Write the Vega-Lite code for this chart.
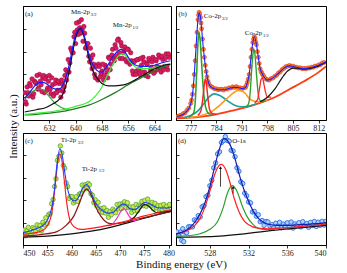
{
"$schema":"https://vega.github.io/schema/vega-lite/v6.json",
"padding":{"left":6,"top":5,"right":0,"bottom":0},
"background":"white",
"config":{"view":{"stroke":"black","strokeWidth":1},"font":"Liberation Serif",
"axis":{"grid":false,"domainColor":"black","tickColor":"black","tickSize":3,"tickWidth":0.8,"labelFont":"Liberation Serif","labelFontSize":8,"labelColor":"#222","labelPadding":1,"labelOverlap":false,"labelSeparation":0,"titleFont":"Liberation Serif","titleFontWeight":"normal","titleFontSize":11,"titleColor":"#111"},
"axisX":{"labelOverlap":false},"axisBottom":{"labelOverlap":false},"axisQuantitative":{"labelOverlap":false},
"axisY":{"labels":false,"title":null,"tickSize":-3,"tickCount":5}},
"datasets":{
"pa":[{"x":624.5,"y":24},{"x":625,"y":14},{"x":625.5,"y":24},{"x":626,"y":32},{"x":626.5,"y":22},{"x":627,"y":20},{"x":627.5,"y":34},{"x":628,"y":32},{"x":628.5,"y":27},{"x":629,"y":40},{"x":629.5,"y":31},{"x":630,"y":37},{"x":630.5,"y":24},{"x":631,"y":38},{"x":631.5,"y":28},{"x":632,"y":39},{"x":632.5,"y":23},{"x":633,"y":31},{"x":633.5,"y":23},{"x":634,"y":35},{"x":634.5,"y":26},{"x":635,"y":32},{"x":635.5,"y":20},{"x":636,"y":32},{"x":636.5,"y":29},{"x":637,"y":44},{"x":637.5,"y":42},{"x":638,"y":42},{"x":638.5,"y":63},{"x":639,"y":59},{"x":639.5,"y":73},{"x":640,"y":67},{"x":640.5,"y":79},{"x":641,"y":86},{"x":641.5,"y":76},{"x":642,"y":79},{"x":642.5,"y":82},{"x":643,"y":63},{"x":643.5,"y":67},{"x":644,"y":56},{"x":644.5,"y":63},{"x":645,"y":45},{"x":645.5,"y":49},{"x":646,"y":37},{"x":646.5,"y":48},{"x":647,"y":49},{"x":647.5,"y":38},{"x":648,"y":43},{"x":648.5,"y":35},{"x":649,"y":48},{"x":649.5,"y":42},{"x":650,"y":55},{"x":650.5,"y":44},{"x":651,"y":57},{"x":651.5,"y":54},{"x":652,"y":66},{"x":652.5,"y":56},{"x":653,"y":71},{"x":653.5,"y":54},{"x":654,"y":65},{"x":654.5,"y":59},{"x":655,"y":64},{"x":655.5,"y":51},{"x":656,"y":62},{"x":656.5,"y":49},{"x":657,"y":52},{"x":657.5,"y":40},{"x":658,"y":52},{"x":658.5,"y":43},{"x":659,"y":53},{"x":659.5,"y":40},{"x":660,"y":48},{"x":660.5,"y":55},{"x":661,"y":42},{"x":661.5,"y":50},{"x":662,"y":38},{"x":662.5,"y":52},{"x":663,"y":46},{"x":663.5,"y":55},{"x":664,"y":42},{"x":664.5,"y":52},{"x":665,"y":44},{"x":665.5,"y":55},{"x":666,"y":42},{"x":666.5,"y":53},{"x":667,"y":47},{"x":667.5,"y":58},{"x":668,"y":44},{"x":668.5,"y":55},
{"x":624.75,"y":16},{"x":625.25,"y":29},{"x":625.75,"y":21},{"x":626.25,"y":30},{"x":626.75,"y":36},{"x":627.25,"y":23},{"x":627.75,"y":33},{"x":628.25,"y":39},{"x":628.75,"y":28},{"x":629.25,"y":34},{"x":629.75,"y":25},{"x":630.25,"y":39},{"x":630.75,"y":36},{"x":631.25,"y":26},{"x":631.75,"y":34},{"x":632.25,"y":27},{"x":632.75,"y":37},{"x":633.25,"y":21},{"x":633.75,"y":32},{"x":634.25,"y":24},{"x":634.75,"y":34},{"x":635.25,"y":26},{"x":635.75,"y":35},{"x":636.25,"y":25},{"x":636.75,"y":39},{"x":637.25,"y":35},{"x":637.75,"y":53},{"x":638.25,"y":50},{"x":638.75,"y":61},{"x":639.25,"y":59},{"x":639.75,"y":77},{"x":640.25,"y":85},{"x":640.75,"y":75},{"x":641.25,"y":81},{"x":641.75,"y":88},{"x":642.25,"y":69},{"x":642.75,"y":76},{"x":643.25,"y":64},{"x":643.75,"y":67},{"x":644.25,"y":51},{"x":644.75,"y":54},{"x":645.25,"y":57},{"x":645.75,"y":40},{"x":646.25,"y":47},{"x":646.75,"y":35},{"x":647.25,"y":47},{"x":647.75,"y":41},{"x":648.25,"y":49},{"x":648.75,"y":39},{"x":649.25,"y":46},{"x":649.75,"y":37},{"x":650.25,"y":54},{"x":650.75,"y":49},{"x":651.25,"y":62},{"x":651.75,"y":52},{"x":652.25,"y":63},{"x":652.75,"y":70},{"x":653.25,"y":59},{"x":653.75,"y":68},{"x":654.25,"y":54},{"x":654.75,"y":61},{"x":655.25,"y":53},{"x":655.75,"y":62},{"x":656.25,"y":51},{"x":656.75,"y":59},{"x":657.25,"y":43},{"x":657.75,"y":51},{"x":658.25,"y":40},{"x":658.75,"y":53},{"x":659.25,"y":44},{"x":659.75,"y":54},{"x":660.25,"y":42},{"x":660.75,"y":51},{"x":661.25,"y":39},{"x":661.75,"y":49},{"x":662.25,"y":54},{"x":662.75,"y":43},{"x":663.25,"y":51},{"x":663.75,"y":41},{"x":664.25,"y":53},{"x":664.75,"y":47},{"x":665.25,"y":57},{"x":665.75,"y":46},{"x":666.25,"y":56},{"x":666.75,"y":44},{"x":667.25,"y":54},{"x":667.75,"y":47},{"x":668.25,"y":58}],
"la":[
{"s":"bg","x":624.5,"y":4.4},{"s":"bg","x":628,"y":5},{"s":"bg","x":632,"y":6},{"s":"bg","x":636,"y":7.5},{"s":"bg","x":640,"y":10},{"s":"bg","x":644,"y":13},{"s":"bg","x":648,"y":18},{"s":"bg","x":652,"y":24},{"s":"bg","x":656,"y":31},{"s":"bg","x":660,"y":37},{"s":"bg","x":664,"y":43},{"s":"bg","x":667,"y":47},{"s":"bg","x":668.8,"y":48.5},
{"s":"sat","x":624.5,"y":18},{"s":"sat","x":626,"y":23},{"s":"sat","x":627.5,"y":26},{"s":"sat","x":629,"y":27},{"s":"sat","x":630,"y":26.5},{"s":"sat","x":631,"y":24},{"s":"sat","x":632,"y":20.5},{"s":"sat","x":633,"y":17},{"s":"sat","x":634,"y":14},{"s":"sat","x":635,"y":12},{"s":"sat","x":636,"y":10.5},{"s":"sat","x":637,"y":9.5},{"s":"sat","x":638,"y":9.5},
{"s":"mn1","x":624.5,"y":5},{"s":"mn1","x":630,"y":6.5},{"s":"mn1","x":636,"y":9},{"s":"mn1","x":640,"y":12},{"s":"mn1","x":644,"y":16},{"s":"mn1","x":646,"y":21},{"s":"mn1","x":648,"y":29},{"s":"mn1","x":649,"y":35},{"s":"mn1","x":650,"y":41},{"s":"mn1","x":651,"y":47},{"s":"mn1","x":652,"y":52},{"s":"mn1","x":653,"y":56},{"s":"mn1","x":654.2,"y":58},{"s":"mn1","x":655,"y":57},{"s":"mn1","x":656,"y":53},{"s":"mn1","x":657,"y":49.5},{"s":"mn1","x":658,"y":47},{"s":"mn1","x":660,"y":45},{"s":"mn1","x":663,"y":45.5},{"s":"mn1","x":666,"y":47.5},{"s":"mn1","x":668.8,"y":49},
{"s":"mn3","x":624.5,"y":7},{"s":"mn3","x":628,"y":9},{"s":"mn3","x":631,"y":11},{"s":"mn3","x":633,"y":14},{"s":"mn3","x":635,"y":18},{"s":"mn3","x":636,"y":22},{"s":"mn3","x":637,"y":30},{"s":"mn3","x":638,"y":42},{"s":"mn3","x":639,"y":58},{"s":"mn3","x":640,"y":72},{"s":"mn3","x":641,"y":79},{"s":"mn3","x":641.6,"y":80},{"s":"mn3","x":642,"y":78},{"s":"mn3","x":643,"y":68},{"s":"mn3","x":644,"y":55},{"s":"mn3","x":645,"y":45},{"s":"mn3","x":646,"y":39},{"s":"mn3","x":647,"y":35},{"s":"mn3","x":648,"y":32},{"s":"mn3","x":650,"y":30},{"s":"mn3","x":652,"y":30},{"s":"mn3","x":655,"y":31},{"s":"mn3","x":658,"y":35},{"s":"mn3","x":661,"y":40},{"s":"mn3","x":664,"y":45},{"s":"mn3","x":667,"y":48},{"s":"mn3","x":668.8,"y":49},
{"s":"env","x":624.5,"y":19},{"s":"env","x":625,"y":21},{"s":"env","x":626,"y":24},{"s":"env","x":627,"y":28},{"s":"env","x":628,"y":31},{"s":"env","x":629,"y":33},{"s":"env","x":630,"y":33},{"s":"env","x":631,"y":32},{"s":"env","x":632,"y":30},{"s":"env","x":633,"y":28},{"s":"env","x":634,"y":27},{"s":"env","x":635,"y":27},{"s":"env","x":636,"y":30},{"s":"env","x":637,"y":37},{"s":"env","x":638,"y":48},{"s":"env","x":639,"y":62},{"s":"env","x":640,"y":75},{"s":"env","x":641,"y":80},{"s":"env","x":641.6,"y":81},{"s":"env","x":642,"y":79},{"s":"env","x":643,"y":70},{"s":"env","x":644,"y":58},{"s":"env","x":645,"y":50},{"s":"env","x":646,"y":45},{"s":"env","x":647,"y":42.5},{"s":"env","x":648,"y":42},{"s":"env","x":649,"y":45},{"s":"env","x":650,"y":49},{"s":"env","x":651,"y":54},{"s":"env","x":652,"y":58},{"s":"env","x":653,"y":61},{"s":"env","x":654,"y":62},{"s":"env","x":655,"y":59.5},{"s":"env","x":656,"y":55},{"s":"env","x":657,"y":51},{"s":"env","x":658,"y":48.5},{"s":"env","x":659,"y":47.5},{"s":"env","x":660,"y":47},{"s":"env","x":662,"y":47},{"s":"env","x":664,"y":48},{"s":"env","x":666,"y":50},{"s":"env","x":668.8,"y":52}],
"ta":[{"k":"m","x":624.6,"y":93,"t":"(a)"},{"k":"m","x":638.6,"y":94.7,"t":"Mn-2p"},{"k":"s","x":644.6,"y":92.3,"t":"3/2"},{"k":"m","x":651.3,"y":83.3,"t":"Mn-2p"},{"k":"s","x":657.3,"y":81,"t":"1/2"}],
"pb":[{"x":773.5,"y":3.2},{"x":774,"y":3.9},{"x":774.5,"y":4.3},{"x":775,"y":5.6},{"x":775.5,"y":6.3},{"x":776,"y":8.6},{"x":776.5,"y":10.5},{"x":777,"y":14.5},{"x":777.25,"y":17.5},{"x":777.5,"y":22.5},{"x":777.75,"y":30},{"x":778,"y":40},{"x":778.25,"y":52},{"x":778.5,"y":65},{"x":778.75,"y":77},{"x":779,"y":88},{"x":779.15,"y":92},{"x":779.3,"y":94.5},{"x":779.5,"y":93},{"x":779.7,"y":90},{"x":779.85,"y":85},{"x":780,"y":80},{"x":780.25,"y":71},{"x":780.5,"y":62},{"x":780.75,"y":55},{"x":781,"y":48},{"x":781.25,"y":42.5},{"x":781.5,"y":38},{"x":781.75,"y":34},{"x":782,"y":31.5},{"x":782.5,"y":29.5},{"x":783,"y":28.6},{"x":783.5,"y":27.5},{"x":784,"y":27.4},{"x":784.5,"y":26.6},{"x":785,"y":26.9},{"x":785.5,"y":27},{"x":786,"y":26.3},{"x":786.5,"y":27.4},{"x":787,"y":27.1},{"x":787.5,"y":28.2},{"x":788,"y":28},{"x":788.5,"y":29.1},{"x":789,"y":28.5},{"x":789.5,"y":29.3},{"x":790,"y":28.3},{"x":790.5,"y":28.2},{"x":791,"y":27.5},{"x":791.5,"y":28.1},{"x":792,"y":28.5},{"x":792.25,"y":30.5},{"x":792.5,"y":33},{"x":792.75,"y":36},{"x":793,"y":40},{"x":793.25,"y":47},{"x":793.5,"y":55},{"x":793.75,"y":62},{"x":794,"y":68},{"x":794.2,"y":71},{"x":794.4,"y":73.2},{"x":794.6,"y":71.5},{"x":794.8,"y":68.5},{"x":795,"y":66},{"x":795.25,"y":60},{"x":795.5,"y":55},{"x":795.75,"y":49.5},{"x":796,"y":45},{"x":796.25,"y":42.5},{"x":796.5,"y":41},{"x":796.75,"y":39.5},{"x":797,"y":38.3},{"x":797.5,"y":36.2},{"x":798,"y":35.3},{"x":798.5,"y":35},{"x":799,"y":36.3},{"x":799.5,"y":36.8},{"x":800,"y":38.3},{"x":800.5,"y":39.3},{"x":801,"y":41.3},{"x":801.5,"y":42.3},{"x":802,"y":44.3},{"x":802.5,"y":45.3},{"x":803,"y":46.8},{"x":803.5,"y":47.1},{"x":804,"y":47.9},{"x":804.5,"y":47.2},{"x":805,"y":47.3},{"x":805.5,"y":46.3},{"x":806,"y":46.3},{"x":806.5,"y":45.6},{"x":807,"y":45.8},{"x":807.5,"y":45},{"x":808,"y":45.3},{"x":808.5,"y":44.9},{"x":809,"y":45.7},{"x":809.5,"y":45.5},{"x":810,"y":46.3},{"x":810.5,"y":46.3},{"x":811,"y":47.3},{"x":811.5,"y":47.3},{"x":812,"y":48.3},{"x":812.5,"y":48.6},{"x":813,"y":50.1},{"x":813.5,"y":50.5}],
"lb":[
{"s":"bg","x":773.2,"y":1.5},{"s":"bg","x":777,"y":2},{"s":"bg","x":780,"y":3},{"s":"bg","x":784,"y":5},{"s":"bg","x":788,"y":8},{"s":"bg","x":792,"y":11},{"s":"bg","x":796,"y":15},{"s":"bg","x":800,"y":20},{"s":"bg","x":804,"y":27},{"s":"bg","x":808,"y":34},{"s":"bg","x":812,"y":42},{"s":"bg","x":814,"y":47},
{"s":"teal","x":775,"y":2},{"s":"teal","x":777,"y":4},{"s":"teal","x":779,"y":8},{"s":"teal","x":780.5,"y":14},{"s":"teal","x":782,"y":20},{"s":"teal","x":783.4,"y":23},{"s":"teal","x":785,"y":21.5},{"s":"teal","x":787,"y":17},{"s":"teal","x":789,"y":13},{"s":"teal","x":791,"y":11.5},{"s":"teal","x":793,"y":12.2},{"s":"teal","x":795,"y":14},
{"s":"orange","x":776,"y":2},{"s":"orange","x":780,"y":4},{"s":"orange","x":783,"y":8},{"s":"orange","x":785,"y":13},{"s":"orange","x":787,"y":19},{"s":"orange","x":789,"y":24.5},{"s":"orange","x":790,"y":26},{"s":"orange","x":791,"y":25.5},{"s":"orange","x":792,"y":23},{"s":"orange","x":793,"y":19},{"s":"orange","x":794.5,"y":16.5},{"s":"orange","x":796,"y":16},{"s":"orange","x":798,"y":18},
{"s":"g1","x":776.5,"y":2.5},{"s":"g1","x":777.8,"y":6},{"s":"g1","x":778.3,"y":18},{"s":"g1","x":778.7,"y":45},{"s":"g1","x":779,"y":68},{"s":"g1","x":779.3,"y":77},{"s":"g1","x":779.6,"y":70},{"s":"g1","x":780,"y":50},{"s":"g1","x":780.4,"y":30},{"s":"g1","x":780.8,"y":17},{"s":"g1","x":781.3,"y":9},{"s":"g1","x":782,"y":5.5},{"s":"g1","x":783,"y":5},
{"s":"r1","x":779,"y":4},{"s":"r1","x":779.8,"y":8},{"s":"r1","x":780.3,"y":18},{"s":"r1","x":780.7,"y":30},{"s":"r1","x":781,"y":36},{"s":"r1","x":781.3,"y":32},{"s":"r1","x":781.7,"y":20},{"s":"r1","x":782.2,"y":9},{"s":"r1","x":783,"y":5.5},{"s":"r1","x":784,"y":5},
{"s":"g2","x":792,"y":11},{"s":"g2","x":792.8,"y":14},{"s":"g2","x":793.3,"y":25},{"s":"g2","x":793.7,"y":45},{"s":"g2","x":794,"y":57},{"s":"g2","x":794.3,"y":62},{"s":"g2","x":794.6,"y":57},{"s":"g2","x":795,"y":40},{"s":"g2","x":795.4,"y":25},{"s":"g2","x":795.8,"y":18},{"s":"g2","x":796.5,"y":16},{"s":"g2","x":797.5,"y":17},
{"s":"r2","x":794.5,"y":15},{"s":"r2","x":795.3,"y":18},{"s":"r2","x":795.8,"y":27},{"s":"r2","x":796.3,"y":36},{"s":"r2","x":796.6,"y":37},{"s":"r2","x":797,"y":32},{"s":"r2","x":797.5,"y":24},{"s":"r2","x":798,"y":20},{"s":"r2","x":799,"y":20},
{"s":"blk","x":796,"y":16},{"s":"blk","x":798,"y":20},{"s":"blk","x":800,"y":27},{"s":"blk","x":802,"y":37},{"s":"blk","x":803.5,"y":43},{"s":"blk","x":805,"y":45.5},{"s":"blk","x":806,"y":45.5},{"s":"blk","x":808,"y":44.5},{"s":"blk","x":810,"y":45.5},{"s":"blk","x":812,"y":47.5},{"s":"blk","x":814,"y":50.5},
{"s":"env","x":773.2,"y":3},{"s":"env","x":775,"y":5},{"s":"env","x":776,"y":8},{"s":"env","x":777,"y":14},{"s":"env","x":777.5,"y":22},{"s":"env","x":778,"y":40},{"s":"env","x":778.5,"y":65},{"s":"env","x":779,"y":88},{"s":"env","x":779.3,"y":94},{"s":"env","x":779.7,"y":90},{"s":"env","x":780,"y":80},{"s":"env","x":780.5,"y":62},{"s":"env","x":781,"y":48},{"s":"env","x":781.5,"y":38},{"s":"env","x":782,"y":31.5},{"s":"env","x":783,"y":28},{"s":"env","x":784,"y":27},{"s":"env","x":785,"y":26.5},{"s":"env","x":786,"y":26.5},{"s":"env","x":787,"y":27.2},{"s":"env","x":788,"y":28.2},{"s":"env","x":789,"y":28.6},{"s":"env","x":790,"y":28.5},{"s":"env","x":791,"y":27.5},{"s":"env","x":792,"y":28.5},{"s":"env","x":792.5,"y":33},{"s":"env","x":793,"y":40},{"s":"env","x":793.5,"y":55},{"s":"env","x":794,"y":68},{"s":"env","x":794.4,"y":73},{"s":"env","x":795,"y":66},{"s":"env","x":795.5,"y":55},{"s":"env","x":796,"y":45},{"s":"env","x":796.5,"y":41},{"s":"env","x":797,"y":38},{"s":"env","x":798,"y":35},{"s":"env","x":799,"y":36},{"s":"env","x":800,"y":38},{"s":"env","x":801,"y":41},{"s":"env","x":802,"y":44},{"s":"env","x":803,"y":46.5},{"s":"env","x":804,"y":47.5},{"s":"env","x":805,"y":47},{"s":"env","x":806,"y":46},{"s":"env","x":808,"y":45},{"s":"env","x":810,"y":46},{"s":"env","x":812,"y":48},{"s":"env","x":814,"y":51}],
"tb":[{"k":"m","x":773.7,"y":93,"t":"(b)"},{"k":"m","x":780.6,"y":91.2,"t":"Co-2p"},{"k":"s","x":785.6,"y":89,"t":"3/2"},{"k":"m","x":791.8,"y":76,"t":"Co-2p"},{"k":"s","x":796.8,"y":73.8,"t":"1/2"}],
"pc":[{"x":450.2,"y":13.4},{"x":450.5,"y":8.2},{"x":450.8,"y":12.6},{"x":451.1,"y":15.8},{"x":451.4,"y":11},{"x":451.7,"y":9.5},{"x":452,"y":15.5},{"x":452.3,"y":14.4},{"x":452.6,"y":12},{"x":452.9,"y":18},{"x":453.2,"y":14.6},{"x":453.5,"y":17.6},{"x":453.8,"y":12.6},{"x":454.1,"y":20.3},{"x":454.4,"y":17.8},{"x":454.7,"y":24.3},{"x":455,"y":19.2},{"x":455.3,"y":27.2},{"x":455.6,"y":28},{"x":455.9,"y":36.9},{"x":456.2,"y":40.6},{"x":456.5,"y":52.2},{"x":456.8,"y":59.2},{"x":457.1,"y":75.5},{"x":457.4,"y":79.2},{"x":457.7,"y":88.5},{"x":458,"y":82.2},{"x":458.3,"y":71},{"x":458.6,"y":68.6},{"x":458.9,"y":55.4},{"x":459.2,"y":52.2},{"x":459.5,"y":41.6},{"x":459.8,"y":43.2},{"x":460.1,"y":43.3},{"x":460.4,"y":37.6},{"x":460.7,"y":39.5},{"x":461,"y":43.2},{"x":461.3,"y":38.8},{"x":461.6,"y":45.4},{"x":461.9,"y":46},{"x":462.2,"y":53.6},{"x":462.5,"y":49.6},{"x":462.8,"y":53.8},{"x":463.1,"y":50.4},{"x":463.4,"y":55},{"x":463.7,"y":53.8},{"x":464,"y":45.7},{"x":464.3,"y":44.4},{"x":464.6,"y":37.8},{"x":464.9,"y":40.4},{"x":465.2,"y":34.8},{"x":465.5,"y":38.1},{"x":465.8,"y":30.2},{"x":466.1,"y":32.7},{"x":466.4,"y":29},{"x":466.7,"y":33.3},{"x":467,"y":28.6},{"x":467.3,"y":30.9},{"x":467.6,"y":24.7},{"x":467.9,"y":29.6},{"x":468.2,"y":27},{"x":468.5,"y":32},{"x":468.8,"y":30.4},{"x":469.1,"y":28.8},{"x":469.4,"y":36.2},{"x":469.7,"y":32.3},{"x":470,"y":36.6},{"x":470.3,"y":32.4},{"x":470.6,"y":37},{"x":470.9,"y":38.6},{"x":471.2,"y":33.4},{"x":471.5,"y":37.8},{"x":471.8,"y":33.2},{"x":472.1,"y":34},{"x":472.4,"y":29},{"x":472.7,"y":34.1},{"x":473,"y":30.5},{"x":473.3,"y":36.2},{"x":473.6,"y":30.5},{"x":473.9,"y":35.6},{"x":474.2,"y":34.7},{"x":474.5,"y":39},{"x":474.8,"y":35.1},{"x":475.1,"y":39.8},{"x":475.4,"y":34.6},{"x":475.7,"y":41},{"x":476,"y":35.8},{"x":476.3,"y":36.7},{"x":476.6,"y":38.1},{"x":476.9,"y":32.4},{"x":477.2,"y":37.2},{"x":477.5,"y":33.2},{"x":477.8,"y":35.1},{"x":478.1,"y":29.4},{"x":478.4,"y":35.4},{"x":478.7,"y":31.4},{"x":479,"y":36.2},{"x":479.3,"y":32.3},{"x":479.6,"y":34.6},{"x":479.9,"y":31.1},{"x":480.2,"y":36.2}],
"lc":[
{"s":"bg","x":450,"y":7},{"s":"bg","x":455,"y":8},{"s":"bg","x":460,"y":10},{"s":"bg","x":465,"y":13},{"s":"bg","x":470,"y":18},{"s":"bg","x":475,"y":24},{"s":"bg","x":480.5,"y":30},
{"s":"brown","x":450,"y":8},{"s":"brown","x":454,"y":9.5},{"s":"brown","x":457,"y":12},{"s":"brown","x":459,"y":18},{"s":"brown","x":460.5,"y":26},{"s":"brown","x":461.5,"y":36},{"s":"brown","x":462.3,"y":45},{"s":"brown","x":463.1,"y":50},{"s":"brown","x":464,"y":45},{"s":"brown","x":465,"y":34},{"s":"brown","x":466,"y":26},{"s":"brown","x":467,"y":21},{"s":"brown","x":468,"y":19},{"s":"brown","x":470,"y":19.5},{"s":"brown","x":475,"y":24.5},{"s":"brown","x":480.5,"y":30},
{"s":"mag","x":467.5,"y":17},{"s":"mag","x":468.5,"y":19},{"s":"mag","x":469.5,"y":25},{"s":"mag","x":470.3,"y":31},{"s":"mag","x":470.8,"y":32.5},{"s":"mag","x":471.3,"y":30},{"s":"mag","x":472,"y":25},{"s":"mag","x":473,"y":22},{"s":"mag","x":474,"y":23},
{"s":"blk","x":472,"y":22},{"s":"blk","x":473,"y":25},{"s":"blk","x":474,"y":31},{"s":"blk","x":475,"y":36},{"s":"blk","x":475.8,"y":35},{"s":"blk","x":476.5,"y":32},{"s":"blk","x":477.5,"y":29},{"s":"blk","x":479,"y":29.5},{"s":"blk","x":480.5,"y":30.5},
{"s":"red","x":450,"y":9.5},{"s":"red","x":452,"y":10.5},{"s":"red","x":454,"y":13},{"s":"red","x":455,"y":17},{"s":"red","x":456,"y":30},{"s":"red","x":456.8,"y":60},{"s":"red","x":457.3,"y":78},{"s":"red","x":457.6,"y":81},{"s":"red","x":458,"y":76},{"s":"red","x":458.5,"y":58},{"s":"red","x":459,"y":38},{"s":"red","x":459.5,"y":25},{"s":"red","x":460,"y":19},{"s":"red","x":461,"y":15},{"s":"red","x":462,"y":14},{"s":"red","x":465,"y":15.5},{"s":"red","x":470,"y":20},{"s":"red","x":475,"y":26},{"s":"red","x":480.5,"y":31.5},
{"s":"env","x":450,"y":11},{"s":"env","x":451,"y":12},{"s":"env","x":452,"y":13.5},{"s":"env","x":453,"y":15},{"s":"env","x":454,"y":17},{"s":"env","x":455,"y":22},{"s":"env","x":456,"y":35},{"s":"env","x":456.5,"y":50},{"s":"env","x":457,"y":72},{"s":"env","x":457.6,"y":86},{"s":"env","x":458,"y":82},{"s":"env","x":458.5,"y":68},{"s":"env","x":459,"y":54},{"s":"env","x":459.5,"y":45},{"s":"env","x":460,"y":41},{"s":"env","x":460.5,"y":39.5},{"s":"env","x":461,"y":40},{"s":"env","x":461.5,"y":43},{"s":"env","x":462,"y":48},{"s":"env","x":462.5,"y":52},{"s":"env","x":463.1,"y":54},{"s":"env","x":463.6,"y":52},{"s":"env","x":464.2,"y":45},{"s":"env","x":465,"y":37},{"s":"env","x":466,"y":32},{"s":"env","x":467,"y":29},{"s":"env","x":467.5,"y":28.5},{"s":"env","x":468.5,"y":29},{"s":"env","x":469.5,"y":33},{"s":"env","x":470.5,"y":36.5},{"s":"env","x":471.3,"y":35.5},{"s":"env","x":472,"y":32.5},{"s":"env","x":473,"y":31.5},{"s":"env","x":474,"y":34.5},{"s":"env","x":475.2,"y":38},{"s":"env","x":476,"y":37},{"s":"env","x":477,"y":34.5},{"s":"env","x":478,"y":33},{"s":"env","x":479,"y":33},{"s":"env","x":480.5,"y":33.5}],
"tc":[{"k":"m","x":450.4,"y":93,"t":"(c)"},{"k":"m","x":457.8,"y":93.8,"t":"Ti-2p"},{"k":"s","x":461.3,"y":91.5,"t":"3/2"},{"k":"m","x":462.1,"y":68.1,"t":"Ti-2p"},{"k":"s","x":465.6,"y":65.8,"t":"1/2"}],
"pd":[{"x":524.6,"y":11.8},{"x":524.8,"y":8},{"x":525,"y":11.6},{"x":525.1,"y":4},{"x":525.2,"y":14.5},{"x":525.3,"y":3},{"x":525.4,"y":11.5},{"x":525.6,"y":11},{"x":525.8,"y":16.3},{"x":526,"y":16.3},{"x":526.2,"y":16.2},{"x":526.4,"y":22.4},{"x":526.6,"y":21.8},{"x":526.8,"y":26.2},{"x":527,"y":25},{"x":527.2,"y":34.1},{"x":527.4,"y":35.1},{"x":527.6,"y":43.2},{"x":527.8,"y":44.4},{"x":528,"y":52.9},{"x":528.2,"y":57.7},{"x":528.4,"y":68.9},{"x":528.6,"y":73.3},{"x":528.8,"y":81.3},{"x":529,"y":83.2},{"x":529.2,"y":91.5},{"x":529.4,"y":93.2},{"x":529.6,"y":96.7},{"x":529.8,"y":93.4},{"x":530,"y":92.7},{"x":530.2,"y":84.5},{"x":530.4,"y":83.9},{"x":530.6,"y":78.8},{"x":530.8,"y":68.9},{"x":531,"y":65.8},{"x":531.2,"y":56.4},{"x":531.4,"y":54.9},{"x":531.6,"y":46.3},{"x":531.8,"y":43.9},{"x":532,"y":38.5},{"x":532.2,"y":37.6},{"x":532.4,"y":29.5},{"x":532.6,"y":30},{"x":532.8,"y":25.7},{"x":533,"y":27},{"x":533.2,"y":20.8},{"x":533.4,"y":21.8},{"x":533.6,"y":17.5},{"x":533.8,"y":21},{"x":534,"y":20.6},{"x":534.2,"y":17},{"x":534.4,"y":18.2},{"x":534.6,"y":15.3},{"x":534.8,"y":19.4},{"x":535,"y":16.6},{"x":535.2,"y":20.2},{"x":535.4,"y":15.4},{"x":535.6,"y":18.7},{"x":535.8,"y":16.9},{"x":536,"y":19.8},{"x":536.2,"y":16},{"x":536.4,"y":20.5},{"x":536.6,"y":15.1},{"x":536.8,"y":18.8},{"x":537,"y":17.6},{"x":537.2,"y":19.9},{"x":537.4,"y":16.2},{"x":537.6,"y":20.8},{"x":537.8,"y":17.4},{"x":538,"y":19.1},{"x":538.2,"y":15.8},{"x":538.4,"y":20.2},{"x":538.6,"y":17.5},{"x":538.8,"y":21},{"x":539,"y":16.6},{"x":539.2,"y":20.3},{"x":539.4,"y":17.6},{"x":539.6,"y":21.1},{"x":539.8,"y":17.8},{"x":540,"y":21.2}],
"ld":[
{"s":"bg","x":524.5,"y":7},{"s":"bg","x":527,"y":7.3},{"s":"bg","x":529,"y":8},{"s":"bg","x":531,"y":9.5},{"s":"bg","x":533,"y":11.5},{"s":"bg","x":535,"y":13.5},{"s":"bg","x":537,"y":15},{"s":"bg","x":540,"y":17.5},
{"s":"green","x":524.5,"y":8},{"s":"green","x":526,"y":8.5},{"s":"green","x":527,"y":10},{"s":"green","x":528,"y":14},{"s":"green","x":528.8,"y":21},{"s":"green","x":529.4,"y":34},{"s":"green","x":529.8,"y":46},{"s":"green","x":530.3,"y":53},{"s":"green","x":530.8,"y":48},{"s":"green","x":531.3,"y":36},{"s":"green","x":531.8,"y":26},{"s":"green","x":532.5,"y":18},{"s":"green","x":533.5,"y":14},{"s":"green","x":535,"y":14},
{"s":"red","x":524.5,"y":10},{"s":"red","x":525.5,"y":12},{"s":"red","x":526.5,"y":18},{"s":"red","x":527,"y":24},{"s":"red","x":527.5,"y":34},{"s":"red","x":528,"y":48},{"s":"red","x":528.5,"y":63},{"s":"red","x":529,"y":71.5},{"s":"red","x":529.2,"y":72},{"s":"red","x":529.6,"y":68},{"s":"red","x":530,"y":58},{"s":"red","x":530.5,"y":42},{"s":"red","x":531,"y":30},{"s":"red","x":531.5,"y":22},{"s":"red","x":532,"y":18},{"s":"red","x":533,"y":15},{"s":"red","x":534,"y":14.5},{"s":"red","x":536,"y":15.5},{"s":"red","x":538,"y":17},{"s":"red","x":540,"y":18.5},
{"s":"env","x":524.5,"y":10},{"s":"env","x":525,"y":11},{"s":"env","x":525.5,"y":13},{"s":"env","x":526,"y":16},{"s":"env","x":526.5,"y":21},{"s":"env","x":527,"y":28},{"s":"env","x":527.5,"y":38},{"s":"env","x":528,"y":52},{"s":"env","x":528.5,"y":70},{"s":"env","x":529,"y":86},{"s":"env","x":529.45,"y":95},{"s":"env","x":530,"y":91},{"s":"env","x":530.5,"y":80},{"s":"env","x":531,"y":64},{"s":"env","x":531.5,"y":50},{"s":"env","x":532,"y":39},{"s":"env","x":532.5,"y":30},{"s":"env","x":533,"y":24},{"s":"env","x":533.5,"y":20.5},{"s":"env","x":534,"y":18.5},{"s":"env","x":535,"y":17.5},{"s":"env","x":536,"y":17.5},{"s":"env","x":537,"y":18},{"s":"env","x":538,"y":18.5},{"s":"env","x":539,"y":19},{"s":"env","x":540,"y":20}],
"td":[{"k":"m","x":524.7,"y":93,"t":"(d)"},{"k":"m","x":530.3,"y":92.9,"t":"O-1s"}],
"ard":[{"x":529.1,"y":52,"y2":69},{"x":530.4,"y":46,"y2":51.5}]
},
"columns":2,
"spacing":{"row":13,"column":5},
"bounds":"flush",
"resolve":{"scale":{"color":"independent","strokeWidth":"independent","x":"independent","y":"independent"}},
"concat":[
{"width":148,"height":114,
"encoding":{"x":{"field":"x","type":"quantitative","scale":{"domain":[624,669],"nice":false,"zero":false},"axis":{"values":[632,640,648,656,664],"title":null,"labelOverlap":false,"labelSeparation":0,"format":"d"}}},
"layer":[
{"data":{"name":"pa"},"mark":{"type":"circle","size":20,"fill":"#d81b60","stroke":"#9c0d3c","strokeWidth":0.6,"opacity":1,"clip":true},
"encoding":{"y":{"field":"y","type":"quantitative","scale":{"domain":[0,100],"nice":false},"axis":{"title":"Intensity (a.u.)","titleX":-10,"titleY":120,"titleAngle":-90,"titleBaseline":"middle","titleAlign":"center"}}}},
{"data":{"name":"la"},"mark":{"type":"line","interpolate":"monotone","clip":true},
"encoding":{"y":{"field":"y","type":"quantitative"},
"color":{"field":"s","type":"nominal","scale":{"domain":["bg","sat","mn1","mn3","env"],"range":["#1b7d1b","#35a835","#3cf03c","#111111","#1a1aff"]},"legend":null},
"strokeWidth":{"field":"s","type":"nominal","scale":{"domain":["bg","sat","mn1","mn3","env"],"range":[1.2,1.2,1.2,1.1,1.6]},"legend":null}}},
{"data":{"name":"ta"},"transform":[{"filter":"datum.k=='m'"}],"mark":{"type":"text","align":"left","baseline":"middle","fontSize":7,"font":"Liberation Serif","color":"#111"},
"encoding":{"y":{"field":"y","type":"quantitative"},"text":{"field":"t"}}},
{"data":{"name":"ta"},"transform":[{"filter":"datum.k=='s'"}],"mark":{"type":"text","align":"left","baseline":"middle","fontSize":4.5,"font":"Liberation Serif","color":"#111"},
"encoding":{"y":{"field":"y","type":"quantitative"},"text":{"field":"t"}}}
]},
{"width":150,"height":114,
"encoding":{"x":{"field":"x","type":"quantitative","scale":{"domain":[773,814],"nice":false,"zero":false},"axis":{"values":[777,784,791,798,805,812],"title":null,"labelOverlap":false,"labelSeparation":0,"format":"d"}}},
"layer":[
{"data":{"name":"pb"},"mark":{"type":"circle","size":16,"fill":"#ff8a1c","stroke":"#e0301e","strokeWidth":0.6,"opacity":1,"clip":true},
"encoding":{"y":{"field":"y","type":"quantitative","scale":{"domain":[0,100],"nice":false}}}},
{"data":{"name":"lb"},"mark":{"type":"line","interpolate":"monotone","clip":true},
"encoding":{"y":{"field":"y","type":"quantitative"},
"color":{"field":"s","type":"nominal","scale":{"domain":["bg","teal","orange","g1","r1","g2","r2","blk","env"],"range":["#ff3a10","#1ea0a0","#ff9a1a","#2ca02c","#ff2020","#2ca02c","#ff2020","#111111","#2020ff"]},"legend":null},
"strokeWidth":{"field":"s","type":"nominal","scale":{"domain":["bg","teal","orange","g1","r1","g2","r2","blk","env"],"range":[1.8,1.1,1.1,1.1,1.1,1.1,1.1,1.1,1.6]},"legend":null}}},
{"data":{"name":"tb"},"transform":[{"filter":"datum.k=='m'"}],"mark":{"type":"text","align":"left","baseline":"middle","fontSize":7,"font":"Liberation Serif","color":"#111"},
"encoding":{"y":{"field":"y","type":"quantitative"},"text":{"field":"t"}}},
{"data":{"name":"tb"},"transform":[{"filter":"datum.k=='s'"}],"mark":{"type":"text","align":"left","baseline":"middle","fontSize":4.5,"font":"Liberation Serif","color":"#111"},
"encoding":{"y":{"field":"y","type":"quantitative"},"text":{"field":"t"}}}
]},
{"width":148,"height":112,
"encoding":{"x":{"field":"x","type":"quantitative","scale":{"domain":[450,480.5],"nice":false,"zero":false},"axis":{"values":[450,455,460,465,470,475,480],"labelOverlap":false,"format":"d","title":"Binding energy (eV)","titleX":158,"titleY":19,"titleBaseline":"middle","titleAlign":"center"}}},
"layer":[
{"data":{"name":"pc"},"mark":{"type":"circle","size":20,"fill":"#cfe64a","stroke":"#3e9e2e","strokeWidth":0.7,"opacity":1,"clip":true},
"encoding":{"y":{"field":"y","type":"quantitative","scale":{"domain":[0,100],"nice":false}}}},
{"data":{"name":"lc"},"mark":{"type":"line","interpolate":"monotone","clip":true},
"encoding":{"y":{"field":"y","type":"quantitative"},
"color":{"field":"s","type":"nominal","scale":{"domain":["bg","brown","mag","blk","red","env"],"range":["#111111","#8c1a1a","#ff30c0","#111111","#ff1a1a","#1f3fff"]},"legend":null},
"strokeWidth":{"field":"s","type":"nominal","scale":{"domain":["bg","brown","mag","blk","red","env"],"range":[1.3,1.1,1.1,1.1,1.4,1.6]},"legend":null}}},
{"data":{"name":"tc"},"transform":[{"filter":"datum.k=='m'"}],"mark":{"type":"text","align":"left","baseline":"middle","fontSize":7,"font":"Liberation Serif","color":"#111"},
"encoding":{"y":{"field":"y","type":"quantitative"},"text":{"field":"t"}}},
{"data":{"name":"tc"},"transform":[{"filter":"datum.k=='s'"}],"mark":{"type":"text","align":"left","baseline":"middle","fontSize":4.5,"font":"Liberation Serif","color":"#111"},
"encoding":{"y":{"field":"y","type":"quantitative"},"text":{"field":"t"}}}
]},
{"width":150,"height":112,
"encoding":{"x":{"field":"x","type":"quantitative","scale":{"domain":[524.5,540],"nice":false,"zero":false},"axis":{"values":[528,532,536,540],"title":null,"labelOverlap":false,"format":"d"}}},
"layer":[
{"data":{"name":"pd"},"mark":{"type":"circle","size":20,"fill":"#a9d0ff","stroke":"#1a62e0","strokeWidth":0.8,"opacity":1,"clip":true},
"encoding":{"y":{"field":"y","type":"quantitative","scale":{"domain":[0,100],"nice":false}}}},
{"data":{"name":"ld"},"mark":{"type":"line","interpolate":"monotone","clip":true},
"encoding":{"y":{"field":"y","type":"quantitative"},
"color":{"field":"s","type":"nominal","scale":{"domain":["bg","green","red","env"],"range":["#111111","#2ca02c","#ff2020","#1a1aa8"]},"legend":null},
"strokeWidth":{"field":"s","type":"nominal","scale":{"domain":["bg","green","red","env"],"range":[1.2,1.2,1.4,1.6]},"legend":null}}},
{"data":{"name":"ard"},"mark":{"type":"rule","color":"#111","strokeWidth":0.8},
"encoding":{"y":{"field":"y","type":"quantitative"},"y2":{"field":"y2"}}},
{"data":{"name":"ard"},"mark":{"type":"point","shape":"triangle-up","filled":true,"size":10,"color":"#111","opacity":1},
"encoding":{"y":{"field":"y2","type":"quantitative"}}},
{"data":{"name":"td"},"transform":[{"filter":"datum.k=='m'"}],"mark":{"type":"text","align":"left","baseline":"middle","fontSize":7,"font":"Liberation Serif","color":"#111"},
"encoding":{"y":{"field":"y","type":"quantitative"},"text":{"field":"t"}}}
]}
]
}
